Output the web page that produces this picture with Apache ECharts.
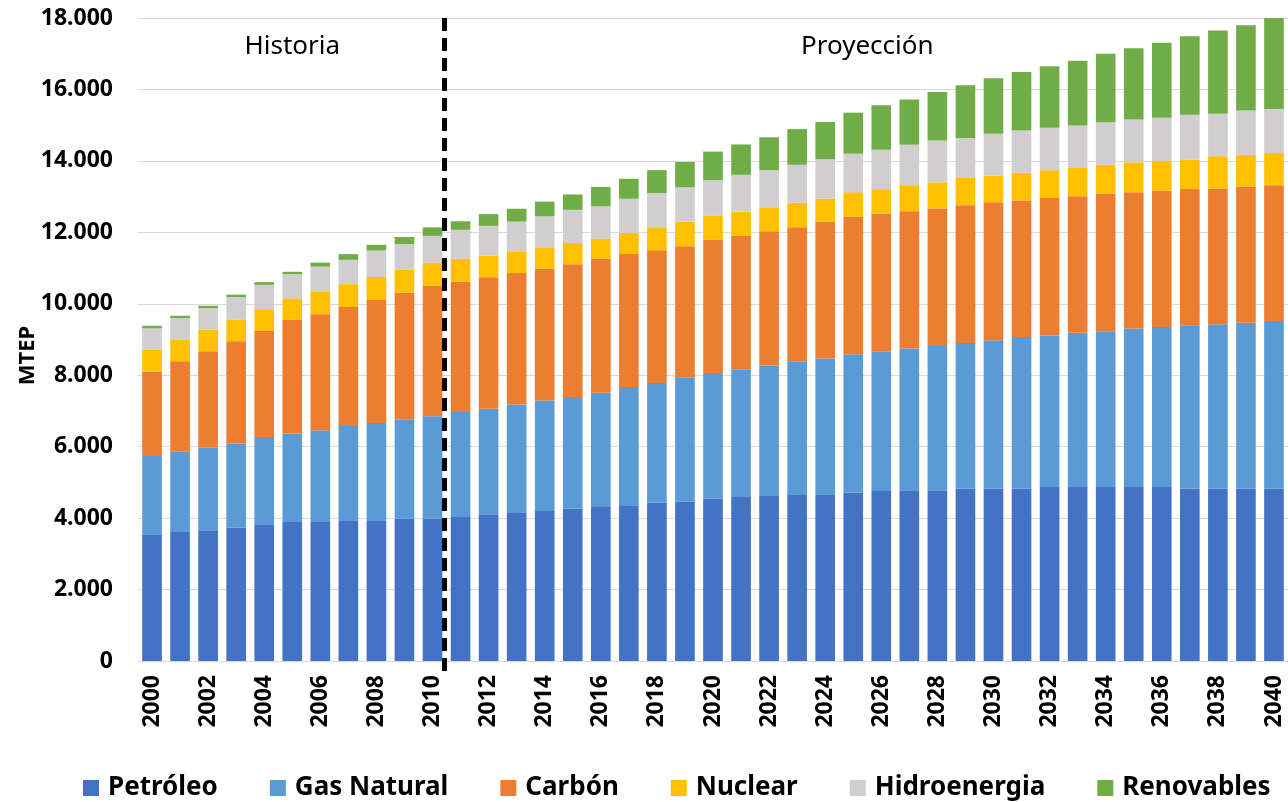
<!DOCTYPE html>
<html>
<head>
<meta charset="utf-8">
<script src="https://cdn.jsdelivr.net/npm/echarts@6/dist/echarts.min.js"></script>
<style>
  html, body { margin: 0; padding: 0; background: #fff; }
  #chart { width: 1288px; height: 802px; }
</style>
</head>
<body>
<div id="chart"></div>
<script>
// años 2000-2040
const years = []
for (let y = 2000; y <= 2040; y++) years.push(String(y))

const petroleo = [3550, 3610, 3660, 3740, 3830, 3890, 3890, 3940, 3940, 3980, 3980,
  4030, 4110, 4140, 4200, 4270, 4310, 4340, 4430, 4460, 4550, 4590, 4620, 4670, 4670,
  4710, 4760, 4780, 4780, 4820, 4820, 4820, 4870, 4870, 4870, 4870, 4870, 4820, 4820, 4820, 4820]
const gasNatural = [2190, 2250, 2310, 2350, 2440, 2480, 2570, 2640, 2720, 2790, 2870,
  2940, 2950, 3040, 3090, 3120, 3200, 3330, 3350, 3480, 3510, 3580, 3650, 3720, 3800,
  3880, 3910, 3970, 4040, 4080, 4160, 4250, 4240, 4320, 4360, 4440, 4480, 4580, 4610, 4650, 4700]
const carbon = [2360, 2530, 2700, 2860, 2970, 3180, 3250, 3330, 3450, 3540, 3650,
  3650, 3680, 3680, 3690, 3720, 3750, 3720, 3720, 3670, 3730, 3730, 3760, 3750, 3830,
  3850, 3860, 3840, 3850, 3860, 3860, 3820, 3850, 3820, 3860, 3810, 3820, 3810, 3800, 3810, 3800]
const nuclear = [610, 600, 600, 600, 610, 600, 640, 640, 640, 640, 640,
  640, 610, 610, 600, 590, 560, 590, 640, 690, 670, 680, 670, 690, 640,
  680, 680, 730, 730, 780, 750, 780, 780, 790, 800, 840, 830, 830, 900, 890, 900]
const hidroenergia = [600, 610, 610, 640, 680, 680, 690, 680, 740, 720, 760,
  810, 830, 830, 870, 930, 910, 960, 960, 960, 1000, 1030, 1040, 1060, 1110,
  1080, 1100, 1130, 1170, 1100, 1170, 1180, 1190, 1190, 1190, 1200, 1210, 1250, 1190, 1240, 1230]
const renovables = [75, 65, 65, 65, 75, 65, 110, 160, 160, 200, 240,
  240, 330, 360, 410, 430, 540, 560, 640, 710, 800, 850, 920, 1000, 1040,
  1150, 1250, 1270, 1360, 1480, 1550, 1640, 1720, 1810, 1920, 1990, 2100, 2200, 2330, 2390, 2550]

const yTicks = [0, 2000, 4000, 6000, 8000, 10000, 12000, 14000, 16000, 18000]

const seriesNames = ['Petróleo', 'Gas Natural', 'Carbón', 'Nuclear', 'Hidroenergia', 'Renovables']
const seriesData = [petroleo, gasNatural, carbon, nuclear, hidroenergia, renovables]
const colors = ['#4472C4', '#5B9BD5', '#ED7D31', '#FFC000', '#D0CECE', '#70AD47']

const FONT = '"Noto Sans", sans-serif'

const fmt = v => String(v).replace(/\B(?=(\d{3})+(?!\d))/g, '.')

const chart = echarts.init(document.getElementById('chart'))

chart.setOption({
  animation: false,
  backgroundColor: '#fff',
  color: colors,
  textStyle: { fontFamily: FONT },
  grid: { left: 138, top: 18, width: 1152, height: 643, containLabel: false },
  legend: {
    top: 770,
    left: 78,
    icon: 'rect',
    itemWidth: 16,
    itemHeight: 16,
    itemGap: 52,
    data: seriesNames,
    textStyle: { fontSize: 26, fontWeight: 'bold', color: '#000', fontFamily: FONT, padding: [0, 0, 0, 4] }
  },
  xAxis: [
    {
      type: 'category',
      data: years,
      axisTick: { show: false },
      axisLine: { lineStyle: { color: '#D9D9D9', width: 1 } },
      axisLabel: {
        interval: 1,
        rotate: 90,
        margin: 14,
        fontSize: 23,
        fontWeight: 'bold',
        color: '#000',
        fontFamily: FONT
      }
    },
    {
      // eje auxiliar para posicionar la línea divisoria y los textos
      type: 'value',
      min: -0.5,
      max: years.length - 0.5,
      show: false
    }
  ],
  yAxis: {
    type: 'value',
    min: yTicks[0],
    max: yTicks[yTicks.length - 1],
    interval: 2000,
    axisLine: { show: false },
    axisTick: { show: false },
    axisLabel: {
      margin: 25,
      fontSize: 23,
      fontWeight: 'bold',
      color: '#000',
      fontFamily: FONT,
      formatter: fmt
    },
    splitLine: { lineStyle: { color: '#D9D9D9', width: 1 } }
  },
  series: seriesNames.map((name, i) => ({
    name,
    type: 'bar',
    stack: 'total',
    barCategoryGap: '30%',
    data: seriesData[i],
    itemStyle: { color: colors[i] }
  }))
})

// línea discontinua, rótulos Historia / Proyección y título del eje
const drawOverlay = () => {
  const xSplit = chart.convertToPixel({ xAxisIndex: 1 }, 10.5)
  const yTop = chart.convertToPixel({ yAxisIndex: 0 }, 18000)
  const yBottom = chart.convertToPixel({ yAxisIndex: 0 }, 0)
  const yText = chart.convertToPixel({ yAxisIndex: 0 }, 17200)
  const yName = chart.convertToPixel({ yAxisIndex: 0 }, 8550)
  const xHist = chart.convertToPixel({ xAxisIndex: 1 }, 5)
  const xProy = chart.convertToPixel({ xAxisIndex: 1 }, 25.5)
  chart.setOption({
    graphic: [
      {
        type: 'line',
        shape: { x1: xSplit - 2, y1: yTop, x2: xSplit - 2, y2: yBottom + 11 },
        style: { stroke: '#000', lineWidth: 5, lineDash: [13, 7] },
        z: 100
      },
      {
        type: 'text',
        x: xHist, y: yText,
        style: { text: 'Historia', fontSize: 26, fontFamily: FONT, fill: '#000', align: 'center', verticalAlign: 'middle' },
        z: 100
      },
      {
        type: 'text',
        x: xProy, y: yText,
        style: { text: 'Proyección', fontSize: 26, fontFamily: FONT, fill: '#000', align: 'center', verticalAlign: 'middle' },
        z: 100
      },
      {
        type: 'text',
        x: 28, y: yName,
        rotation: Math.PI / 2,
        style: { text: 'MTEP', fontSize: 22, fontWeight: 'bold', fontFamily: FONT, fill: '#000', align: 'center', verticalAlign: 'middle' },
        z: 100
      }
    ]
  })
}
drawOverlay()
</script>
</body>
</html>
